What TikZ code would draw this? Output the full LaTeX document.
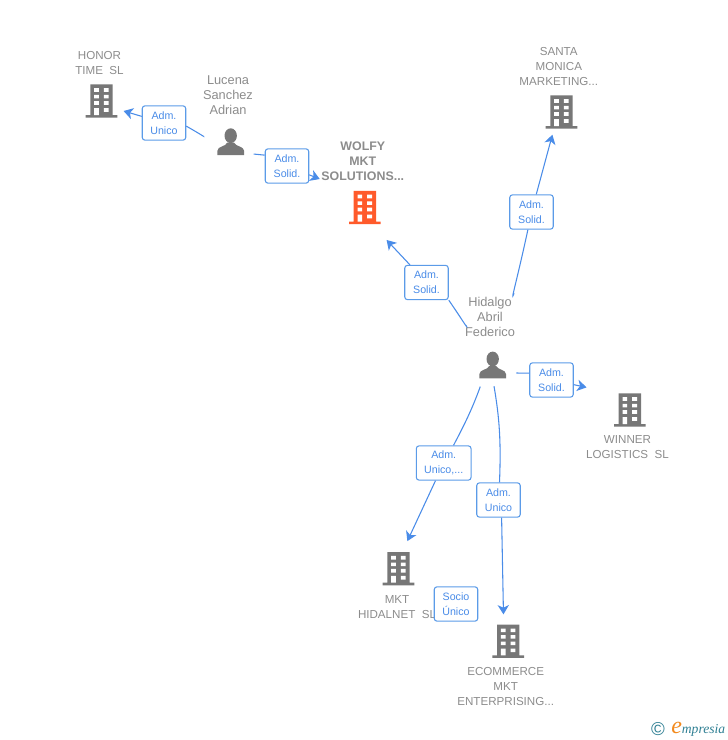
\documentclass[tikz,border=0pt]{standalone}
\usepackage{fontspec}
\setmainfont{Liberation Sans}
\newfontfamily\logofont{Liberation Serif}
\usetikzlibrary{arrows.meta}
\definecolor{firmgray}{HTML}{777777}
\definecolor{firmorange}{HTML}{FF5A2B}
\definecolor{lblgray}{HTML}{8C8C8C}
\definecolor{linkblue}{HTML}{4A8CE8}
\definecolor{roleblue}{HTML}{5B9BE8}
\definecolor{logoteal}{HTML}{2F7F93}
\definecolor{logoorange}{HTML}{F28A1E}
% icons, in pixels from the centre of the node
\newcommand{\firmicon}[1]{%
\begin{scope}[shift={(path picture bounding box.center)}]
\fill[#1] (-11.2,-16.7) rectangle (11.2,14) (-15.8,14) rectangle (15.8,16.7);
\foreach \wy in {-12.8,-6.2,0.2} {
\fill[white] (-7.3,\wy) rectangle (-2.7,\wy+3.6) (2.4,\wy) rectangle (7.2,\wy+3.6);
}
\fill[white] (-7.3,7.2) rectangle (-2.7,14) (2.4,7.2) rectangle (7.2,10.8);
\end{scope}}
\newcommand{\personicon}{%
\begin{scope}[shift={(path picture bounding box.center)}]
\fill[firmgray] (0,-6) ellipse (6.2 and 7.4);
\fill[firmgray] (-13.3,13.3) -- (-13.3,9) .. controls (-13.3,4.5) and (-5,5) .. (-3.5,1) -- (3.5,1) .. controls (5,5) and (13.3,4.5) .. (13.3,9) -- (13.3,13.3) -- cycle;
\end{scope}}
\begin{document}
\begin{tikzpicture}
[x=0.75pt,y=-0.75pt,
firm/.style={inner sep=0pt,minimum width=23.7pt,minimum height=25pt,path picture={\firmicon{#1}}},
firm/.default=firmgray,
person/.style={inner sep=0pt,minimum width=20pt,minimum height=20pt,path picture={\personicon}},
lbl/.style={align=center,text=lblgray,font=\fontsize{8.7}{11.25}\selectfont},
personlbl/.style={lbl,font=\fontsize{9.6}{11.25}\selectfont},
role/.style={draw=roleblue,line width=0.8pt,rounded corners=2pt,fill=white,text=linkblue,align=center,inner sep=1pt,minimum width=32.6pt,minimum height=25.7pt,font=\fontsize{8}{11.25}\selectfont},
link/.style={color=linkblue,line width=0.8pt},
tip/.style={-{Stealth[length=7pt,width=8.5pt,inset=2pt]}}]
\node[lbl] (honortxt) at (99.5,63.2) {HONOR\\TIME\ \ SL};
\node[personlbl] (lucenatxt) at (228,95) {Lucena\\Sanchez\\Adrian};
\node[lbl,font=\fontsize{9.3}{11.25}\selectfont\bfseries] (wolfytxt) at (362.8,161) {WOLFY\\MKT\\SOLUTIONS...};
\node[lbl] (santatxt) at (558.8,66.8) {SANTA\\MONICA\\MARKETING...};
\node[personlbl] (hidalgotxt) at (490,317) {Hidalgo\\Abril\\Federico};
\node[lbl] (winnertxt) at (627.5,447.2) {WINNER\\LOGISTICS\ \ SL};
\node[lbl] (hidalnettxt) at (397,607.2) {MKT\\HIDALNET\ \ SL};
\node[lbl] (ecommercetxt) at (505.7,686.5) {ECOMMERCE\\MKT\\ENTERPRISING...};
\node[firm] (honor) at (101.5,101) {};
\node[firm=firmorange] (wolfy) at (364.8,207.5) {};
\node[firm] (santa) at (561.5,112) {};
\node[firm] (winner) at (629.8,410) {};
\node[firm] (hidalnet) at (398.5,568.7) {};
\node[firm] (ecommerce) at (508.2,641.3) {};
\node[person] (lucena) at (230.7,141.7) {};
\node[person] (hidalgo) at (492.7,365) {};
\node[role] (roleA) at (164,123) {Adm.\ \\Unico};
\node[role] (roleB) at (287,166) {Adm.\ \\Solid.};
\node[role] (roleC) at (426.5,282.5) {Adm.\ \\Solid.};
\node[role] (roleD) at (531.5,212) {Adm.\ \\Solid.};
\node[role] (roleE) at (551.5,380) {Adm.\ \\Solid.};
\node[role,minimum width=41pt] (roleF) at (443.7,463) {Adm.\ \\Unico,...};
\node[role] (roleG) at (498.5,500) {Adm.\ \\Unico};
\node[role] (roleH) at (456,604) {Socio\\Único};
\path[link] (lucena.202) edge[bend right=5,shorten <=13.2pt] (roleA.-8)
(roleA) edge[tip,shorten >=4.7pt] (honor.-27)
(lucena.-40) edge[shorten <=7pt] (roleB.154)
(roleB) edge[tip,shorten >=23.4pt] (wolfy.north west)
(hidalgo.north west) edge[bend right=4,shorten <=22pt] (roleC.south east)
(roleC) edge[tip,shorten >=16pt] (wolfy.-67)
(hidalgo.north) edge[bend right=4,shorten <=46.5pt] (roleD)
(roleD) edge[tip,shorten >=4.5pt] (santa.-114)
(hidalgo.-30) edge[shorten <=7.5pt] (roleE.163)
(roleE) edge[tip,shorten >=20.8pt] (winner.north west)
(hidalgo.235) edge[bend left=4,shorten <=6.4pt] (roleF)
(roleF) edge[tip,shorten >=8.8pt] (hidalnet.77)
(hidalgo.south) edge[bend left=6,shorten <=5.8pt] (roleG)
(roleG.-80) edge[tip,shorten >=7.5pt] (ecommerce.105);
\node[text=logoteal,inner sep=0pt,font=\fontsize{14}{14}\selectfont] (logomark) at (658,729) {©};
\node[text=logoteal,inner sep=0pt,anchor=base west,font=\logofont\itshape\fontsize{10.2}{12}\selectfont] (logo) at (671,733) {\textcolor{logoorange}{\fontsize{18}{12}\selectfont e}mpresia};
\useasboundingbox (0,0) rectangle (728,740);
\end{tikzpicture}
\end{document}
